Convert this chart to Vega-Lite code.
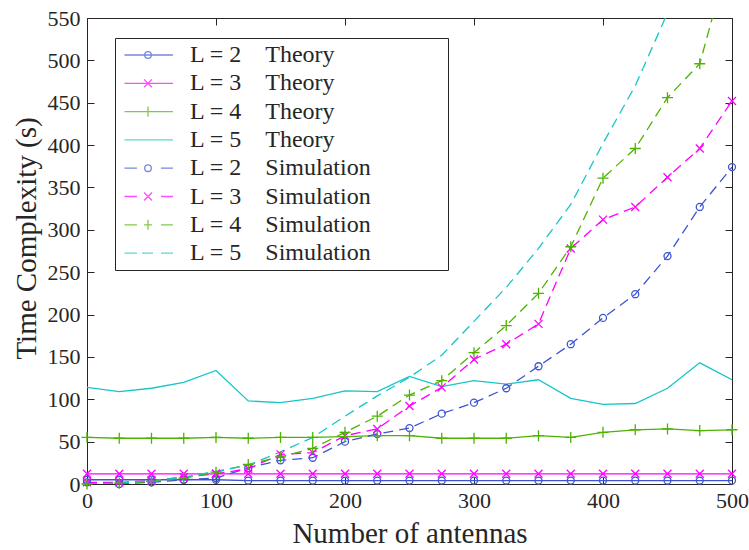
{
  "$schema": "https://vega.github.io/schema/vega-lite/v6.json",
  "autosize": {"type": "none"},
  "padding": {"left": 87, "top": 18, "right": 17, "bottom": 66},
  "width": 645,
  "height": 466,
  "background": "white",
  "config": {
    "view": {"stroke": "#262626", "strokeWidth": 1},
    "font": "Liberation Serif"
  },
  "data": {"values": [
    {"s":"T2","x":0,"y":5},{"s":"T2","x":25,"y":5},{"s":"T2","x":50,"y":5},{"s":"T2","x":75,"y":5},{"s":"T2","x":100,"y":5},{"s":"T2","x":125,"y":4},{"s":"T2","x":150,"y":4},{"s":"T2","x":175,"y":4},{"s":"T2","x":200,"y":4},{"s":"T2","x":225,"y":4},{"s":"T2","x":250,"y":4},{"s":"T2","x":275,"y":4},{"s":"T2","x":300,"y":4},{"s":"T2","x":325,"y":4},{"s":"T2","x":350,"y":4},{"s":"T2","x":375,"y":4},{"s":"T2","x":400,"y":4},{"s":"T2","x":425,"y":4},{"s":"T2","x":450,"y":4},{"s":"T2","x":475,"y":4},{"s":"T2","x":500,"y":4},
    {"s":"T3","x":0,"y":12},{"s":"T3","x":25,"y":12},{"s":"T3","x":50,"y":12},{"s":"T3","x":75,"y":12},{"s":"T3","x":100,"y":12},{"s":"T3","x":125,"y":12},{"s":"T3","x":150,"y":12},{"s":"T3","x":175,"y":12},{"s":"T3","x":200,"y":12},{"s":"T3","x":225,"y":12},{"s":"T3","x":250,"y":12},{"s":"T3","x":275,"y":12},{"s":"T3","x":300,"y":12},{"s":"T3","x":325,"y":12},{"s":"T3","x":350,"y":12},{"s":"T3","x":375,"y":12},{"s":"T3","x":400,"y":12},{"s":"T3","x":425,"y":12},{"s":"T3","x":450,"y":12},{"s":"T3","x":475,"y":12},{"s":"T3","x":500,"y":12},
    {"s":"T4","x":0,"y":55},{"s":"T4","x":25,"y":54},{"s":"T4","x":50,"y":54},{"s":"T4","x":75,"y":54},{"s":"T4","x":100,"y":55},{"s":"T4","x":125,"y":54},{"s":"T4","x":150,"y":55},{"s":"T4","x":175,"y":55},{"s":"T4","x":200,"y":56},{"s":"T4","x":225,"y":57},{"s":"T4","x":250,"y":57},{"s":"T4","x":275,"y":54},{"s":"T4","x":300,"y":54},{"s":"T4","x":325,"y":54},{"s":"T4","x":350,"y":57},{"s":"T4","x":375,"y":55},{"s":"T4","x":400,"y":61},{"s":"T4","x":425,"y":64},{"s":"T4","x":450,"y":65},{"s":"T4","x":475,"y":63},{"s":"T4","x":500,"y":64},
    {"s":"T5","x":0,"y":114},{"s":"T5","x":25,"y":109},{"s":"T5","x":50,"y":113},{"s":"T5","x":75,"y":120},{"s":"T5","x":100,"y":134},{"s":"T5","x":125,"y":98},{"s":"T5","x":150,"y":96},{"s":"T5","x":175,"y":101},{"s":"T5","x":200,"y":110},{"s":"T5","x":225,"y":109},{"s":"T5","x":250,"y":127},{"s":"T5","x":275,"y":115},{"s":"T5","x":300,"y":122},{"s":"T5","x":325,"y":118},{"s":"T5","x":350,"y":123},{"s":"T5","x":375,"y":101},{"s":"T5","x":400,"y":94},{"s":"T5","x":425,"y":95},{"s":"T5","x":450,"y":113},{"s":"T5","x":475,"y":143},{"s":"T5","x":500,"y":123},
    {"s":"S2","x":0,"y":2},{"s":"S2","x":25,"y":0},{"s":"S2","x":50,"y":2},{"s":"S2","x":75,"y":5},{"s":"S2","x":100,"y":7},{"s":"S2","x":125,"y":19},{"s":"S2","x":150,"y":28},{"s":"S2","x":175,"y":31},{"s":"S2","x":200,"y":50},{"s":"S2","x":225,"y":59},{"s":"S2","x":250,"y":66},{"s":"S2","x":275,"y":83},{"s":"S2","x":300,"y":96},{"s":"S2","x":325,"y":113},{"s":"S2","x":350,"y":139},{"s":"S2","x":375,"y":165},{"s":"S2","x":400,"y":196},{"s":"S2","x":425,"y":224},{"s":"S2","x":450,"y":269},{"s":"S2","x":475,"y":327},{"s":"S2","x":500,"y":374},
    {"s":"S3","x":0,"y":2},{"s":"S3","x":25,"y":2},{"s":"S3","x":50,"y":4},{"s":"S3","x":75,"y":8},{"s":"S3","x":100,"y":12},{"s":"S3","x":125,"y":18},{"s":"S3","x":150,"y":35},{"s":"S3","x":175,"y":37},{"s":"S3","x":200,"y":57},{"s":"S3","x":225,"y":65},{"s":"S3","x":250,"y":92},{"s":"S3","x":275,"y":114},{"s":"S3","x":300,"y":147},{"s":"S3","x":325,"y":165},{"s":"S3","x":350,"y":189},{"s":"S3","x":375,"y":278},{"s":"S3","x":400,"y":312},{"s":"S3","x":425,"y":327},{"s":"S3","x":450,"y":362},{"s":"S3","x":475,"y":396},{"s":"S3","x":500,"y":452},
    {"s":"S4","x":0,"y":0},{"s":"S4","x":25,"y":1},{"s":"S4","x":50,"y":3},{"s":"S4","x":75,"y":7},{"s":"S4","x":100,"y":14},{"s":"S4","x":125,"y":23},{"s":"S4","x":150,"y":32},{"s":"S4","x":175,"y":42},{"s":"S4","x":200,"y":61},{"s":"S4","x":225,"y":80},{"s":"S4","x":250,"y":105},{"s":"S4","x":275,"y":122},{"s":"S4","x":300,"y":155},{"s":"S4","x":325,"y":187},{"s":"S4","x":350,"y":225},{"s":"S4","x":375,"y":280},{"s":"S4","x":400,"y":361},{"s":"S4","x":425,"y":396},{"s":"S4","x":450,"y":456},{"s":"S4","x":475,"y":496},{"s":"S4","x":500,"y":635},
    {"s":"S5","x":0,"y":0},{"s":"S5","x":25,"y":1},{"s":"S5","x":50,"y":4},{"s":"S5","x":75,"y":8},{"s":"S5","x":100,"y":15},{"s":"S5","x":125,"y":22},{"s":"S5","x":150,"y":38},{"s":"S5","x":175,"y":55},{"s":"S5","x":200,"y":80},{"s":"S5","x":225,"y":104},{"s":"S5","x":250,"y":126},{"s":"S5","x":275,"y":152},{"s":"S5","x":300,"y":192},{"s":"S5","x":325,"y":232},{"s":"S5","x":350,"y":278},{"s":"S5","x":375,"y":330},{"s":"S5","x":400,"y":402},{"s":"S5","x":425,"y":470},{"s":"S5","x":450,"y":556},{"s":"S5","x":475,"y":640},{"s":"S5","x":500,"y":730}
  ]},
  "resolve": {"axis": {"x": "independent", "y": "independent"}, "scale": {"color": "independent", "shape": "independent"}},
  "layer": [
    {
      "transform": [{"filter": "substring(datum.s,0,1) == 'T'"}],
      "mark": {"type": "line", "strokeWidth": 1.3, "clip": true},
      "encoding": {
        "x": {"field": "x", "type": "quantitative", "scale": {"domain": [0, 500], "nice": false, "zero": false},
          "axis": {"values": [0,100,200,300,400,500], "tickSize": -7, "labelPadding": 13, "labelFlush": false, "domain": false, "grid": false,
            "labelFont": "Liberation Serif", "labelFontSize": 22, "labelColor": "#262626", "tickColor": "#262626",
            "title": "Number of antennas", "titleFont": "Liberation Serif", "titleFontSize": 29, "titleFontWeight": "normal", "titleColor": "#262626", "titlePadding": 8}},
        "y": {"field": "y", "type": "quantitative", "scale": {"domain": [0, 550], "nice": false, "zero": false},
          "axis": {"values": [0,50,100,150,200,250,300,350,400,450,500,550], "tickSize": -7, "labelPadding": 14, "labelFlush": false, "domain": false, "grid": false,
            "labelFont": "Liberation Serif", "labelFontSize": 22, "labelColor": "#262626", "tickColor": "#262626",
            "title": "Time Complexity (s)", "titleFont": "Liberation Serif", "titleFontSize": 29, "titleFontWeight": "normal", "titleColor": "#262626", "titlePadding": 6, "titleY": 220}},
        "color": {"field": "s", "type": "nominal", "legend": null,
          "scale": {"domain": ["T2","T3","T4","T5","S2","S3","S4","S5"], "range": ["#3d55d1","#ff00ff","#4db300","#17c5c8","#3d55d1","#ff00ff","#4db300","#17c5c8"]}},
        "detail": {"field": "s"}
      }
    },
    {
      "transform": [{"filter": "substring(datum.s,0,1) == 'S'"}],
      "mark": {"type": "line", "strokeWidth": 1.3, "strokeDash": [10, 6], "clip": true},
      "encoding": {
        "x": {"field": "x", "type": "quantitative", "axis": null},
        "y": {"field": "y", "type": "quantitative", "axis": null},
        "color": {"field": "s", "type": "nominal", "legend": null,
          "scale": {"domain": ["T2","T3","T4","T5","S2","S3","S4","S5"], "range": ["#3d55d1","#ff00ff","#4db300","#17c5c8","#3d55d1","#ff00ff","#4db300","#17c5c8"]}},
        "detail": {"field": "s"}
      }
    },
    {
      "transform": [{"filter": "datum.s == 'T2' || datum.s == 'S2'"}],
      "mark": {"type": "point", "shape": "circle", "size": 49, "filled": false, "strokeWidth": 1.3, "opacity": 1},
      "encoding": {
        "x": {"field": "x", "type": "quantitative", "axis": null},
        "y": {"field": "y", "type": "quantitative", "axis": null},
        "color": {"field": "s", "type": "nominal", "legend": null,
          "scale": {"domain": ["T2","T3","T4","T5","S2","S3","S4","S5"], "range": ["#3d55d1","#ff00ff","#4db300","#17c5c8","#3d55d1","#ff00ff","#4db300","#17c5c8"]}}
      }
    },
    {
      "transform": [{"filter": "datum.s == 'T3' || datum.s == 'S3'"}],
      "mark": {"type": "point", "shape": "M-1,-1L1,1M-1,1L1,-1", "size": 64, "filled": false, "strokeWidth": 1.3, "opacity": 1},
      "encoding": {
        "x": {"field": "x", "type": "quantitative", "axis": null},
        "y": {"field": "y", "type": "quantitative", "axis": null},
        "color": {"field": "s", "type": "nominal", "legend": null,
          "scale": {"domain": ["T2","T3","T4","T5","S2","S3","S4","S5"], "range": ["#3d55d1","#ff00ff","#4db300","#17c5c8","#3d55d1","#ff00ff","#4db300","#17c5c8"]}}
      }
    },
    {
      "transform": [{"filter": "(datum.s == 'T4' || datum.s == 'S4') && datum.y <= 550"}],
      "mark": {"type": "point", "shape": "M-1,0H1M0,-1V1", "size": 121, "filled": false, "strokeWidth": 1.3, "opacity": 1},
      "encoding": {
        "x": {"field": "x", "type": "quantitative", "axis": null},
        "y": {"field": "y", "type": "quantitative", "axis": null},
        "color": {"field": "s", "type": "nominal", "legend": null,
          "scale": {"domain": ["T2","T3","T4","T5","S2","S3","S4","S5"], "range": ["#3d55d1","#ff00ff","#4db300","#17c5c8","#3d55d1","#ff00ff","#4db300","#17c5c8"]}}
      }
    },
    {
      "transform": [{"filter": "datum.s == 'T2'"}],
      "mark": {"type": "line", "opacity": 0},
      "encoding": {
        "x": {"field": "x", "type": "quantitative",
          "axis": {"orient": "top", "values": [0,100,200,300,400,500], "tickSize": -7, "labels": false, "domain": false, "grid": false, "title": null, "tickColor": "#262626"}},
        "y": {"field": "y", "type": "quantitative",
          "axis": {"orient": "right", "values": [0,50,100,150,200,250,300,350,400,450,500,550], "tickSize": -7, "labels": false, "domain": false, "grid": false, "title": null, "tickColor": "#262626"}}
      }
    },
    {
      "transform": [{"filter": "false"}],
      "mark": {"type": "point", "filled": false, "strokeWidth": 1.3},
      "encoding": {
        "x": {"field": "x", "type": "quantitative", "axis": null},
        "y": {"field": "y", "type": "quantitative", "axis": null},
        "color": {"field": "s", "type": "nominal",
          "scale": {"domain": ["T2","T3","T4","T5","S2","S3","S4","S5"], "range": ["#3d55d1","#ff00ff","#4db300","#17c5c8","#3d55d1","#ff00ff","#4db300","#17c5c8"]},
          "legend": {"orient": "none", "legendX": 28, "legendY": 20, "title": null, "strokeColor": "#262626", "fillColor": "white", "padding": 4,
            "symbolSize": 576, "symbolStrokeWidth": 1.3, "labelFont": "Liberation Serif", "labelFontSize": 24, "labelColor": "#262626", "labelOffset": 45, "rowPadding": 3.3, "labelLimit": 1000,
            "labelExpr": "'L = ' + substring(datum.value,1,2) + '\u2003' + (substring(datum.value,0,1) == 'T' ? 'Theory' : 'Simulation') + '\u2003\u2003\u2002\u2002\u200b'"}},
        "shape": {"field": "s", "type": "nominal",
          "scale": {"domain": ["T2","T3","T4","T5","S2","S3","S4","S5"],
            "range": [
              "M-0.627,0H3.413M1.608,0A0.275,0.275 0 1,1 1.058,0A0.275,0.275 0 1,1 1.608,0",
              "M-0.627,0H3.413M1.003,-0.33L1.663,0.33M1.003,0.33L1.663,-0.33",
              "M-0.627,0H3.413M1.333,-0.42V0.42",
              "M-0.627,0H3.413",
              "M-0.627,0H0.413M2.413,0H3.413M1.608,0A0.275,0.275 0 1,1 1.058,0A0.275,0.275 0 1,1 1.608,0",
              "M-0.627,0H0.413M2.413,0H3.413M1.003,-0.33L1.663,0.33M1.003,0.33L1.663,-0.33",
              "M-0.627,0H0.413M2.413,0H3.413M1.333,-0.42V0.42M1.003,0H1.663",
              "M-0.627,0H0.413M0.833,0H1.753M2.413,0H3.413"
            ]},
          "legend": {"orient": "none", "legendX": 28, "legendY": 20, "title": null, "strokeColor": "#262626", "fillColor": "white", "padding": 4,
            "symbolSize": 576, "symbolStrokeWidth": 1.3, "labelFont": "Liberation Serif", "labelFontSize": 24, "labelColor": "#262626", "labelOffset": 45, "rowPadding": 3.3, "labelLimit": 1000,
            "labelExpr": "'L = ' + substring(datum.value,1,2) + '\u2003' + (substring(datum.value,0,1) == 'T' ? 'Theory' : 'Simulation') + '\u2003\u2003\u2002\u2002\u200b'"}}
      }
    }
  ]
}
